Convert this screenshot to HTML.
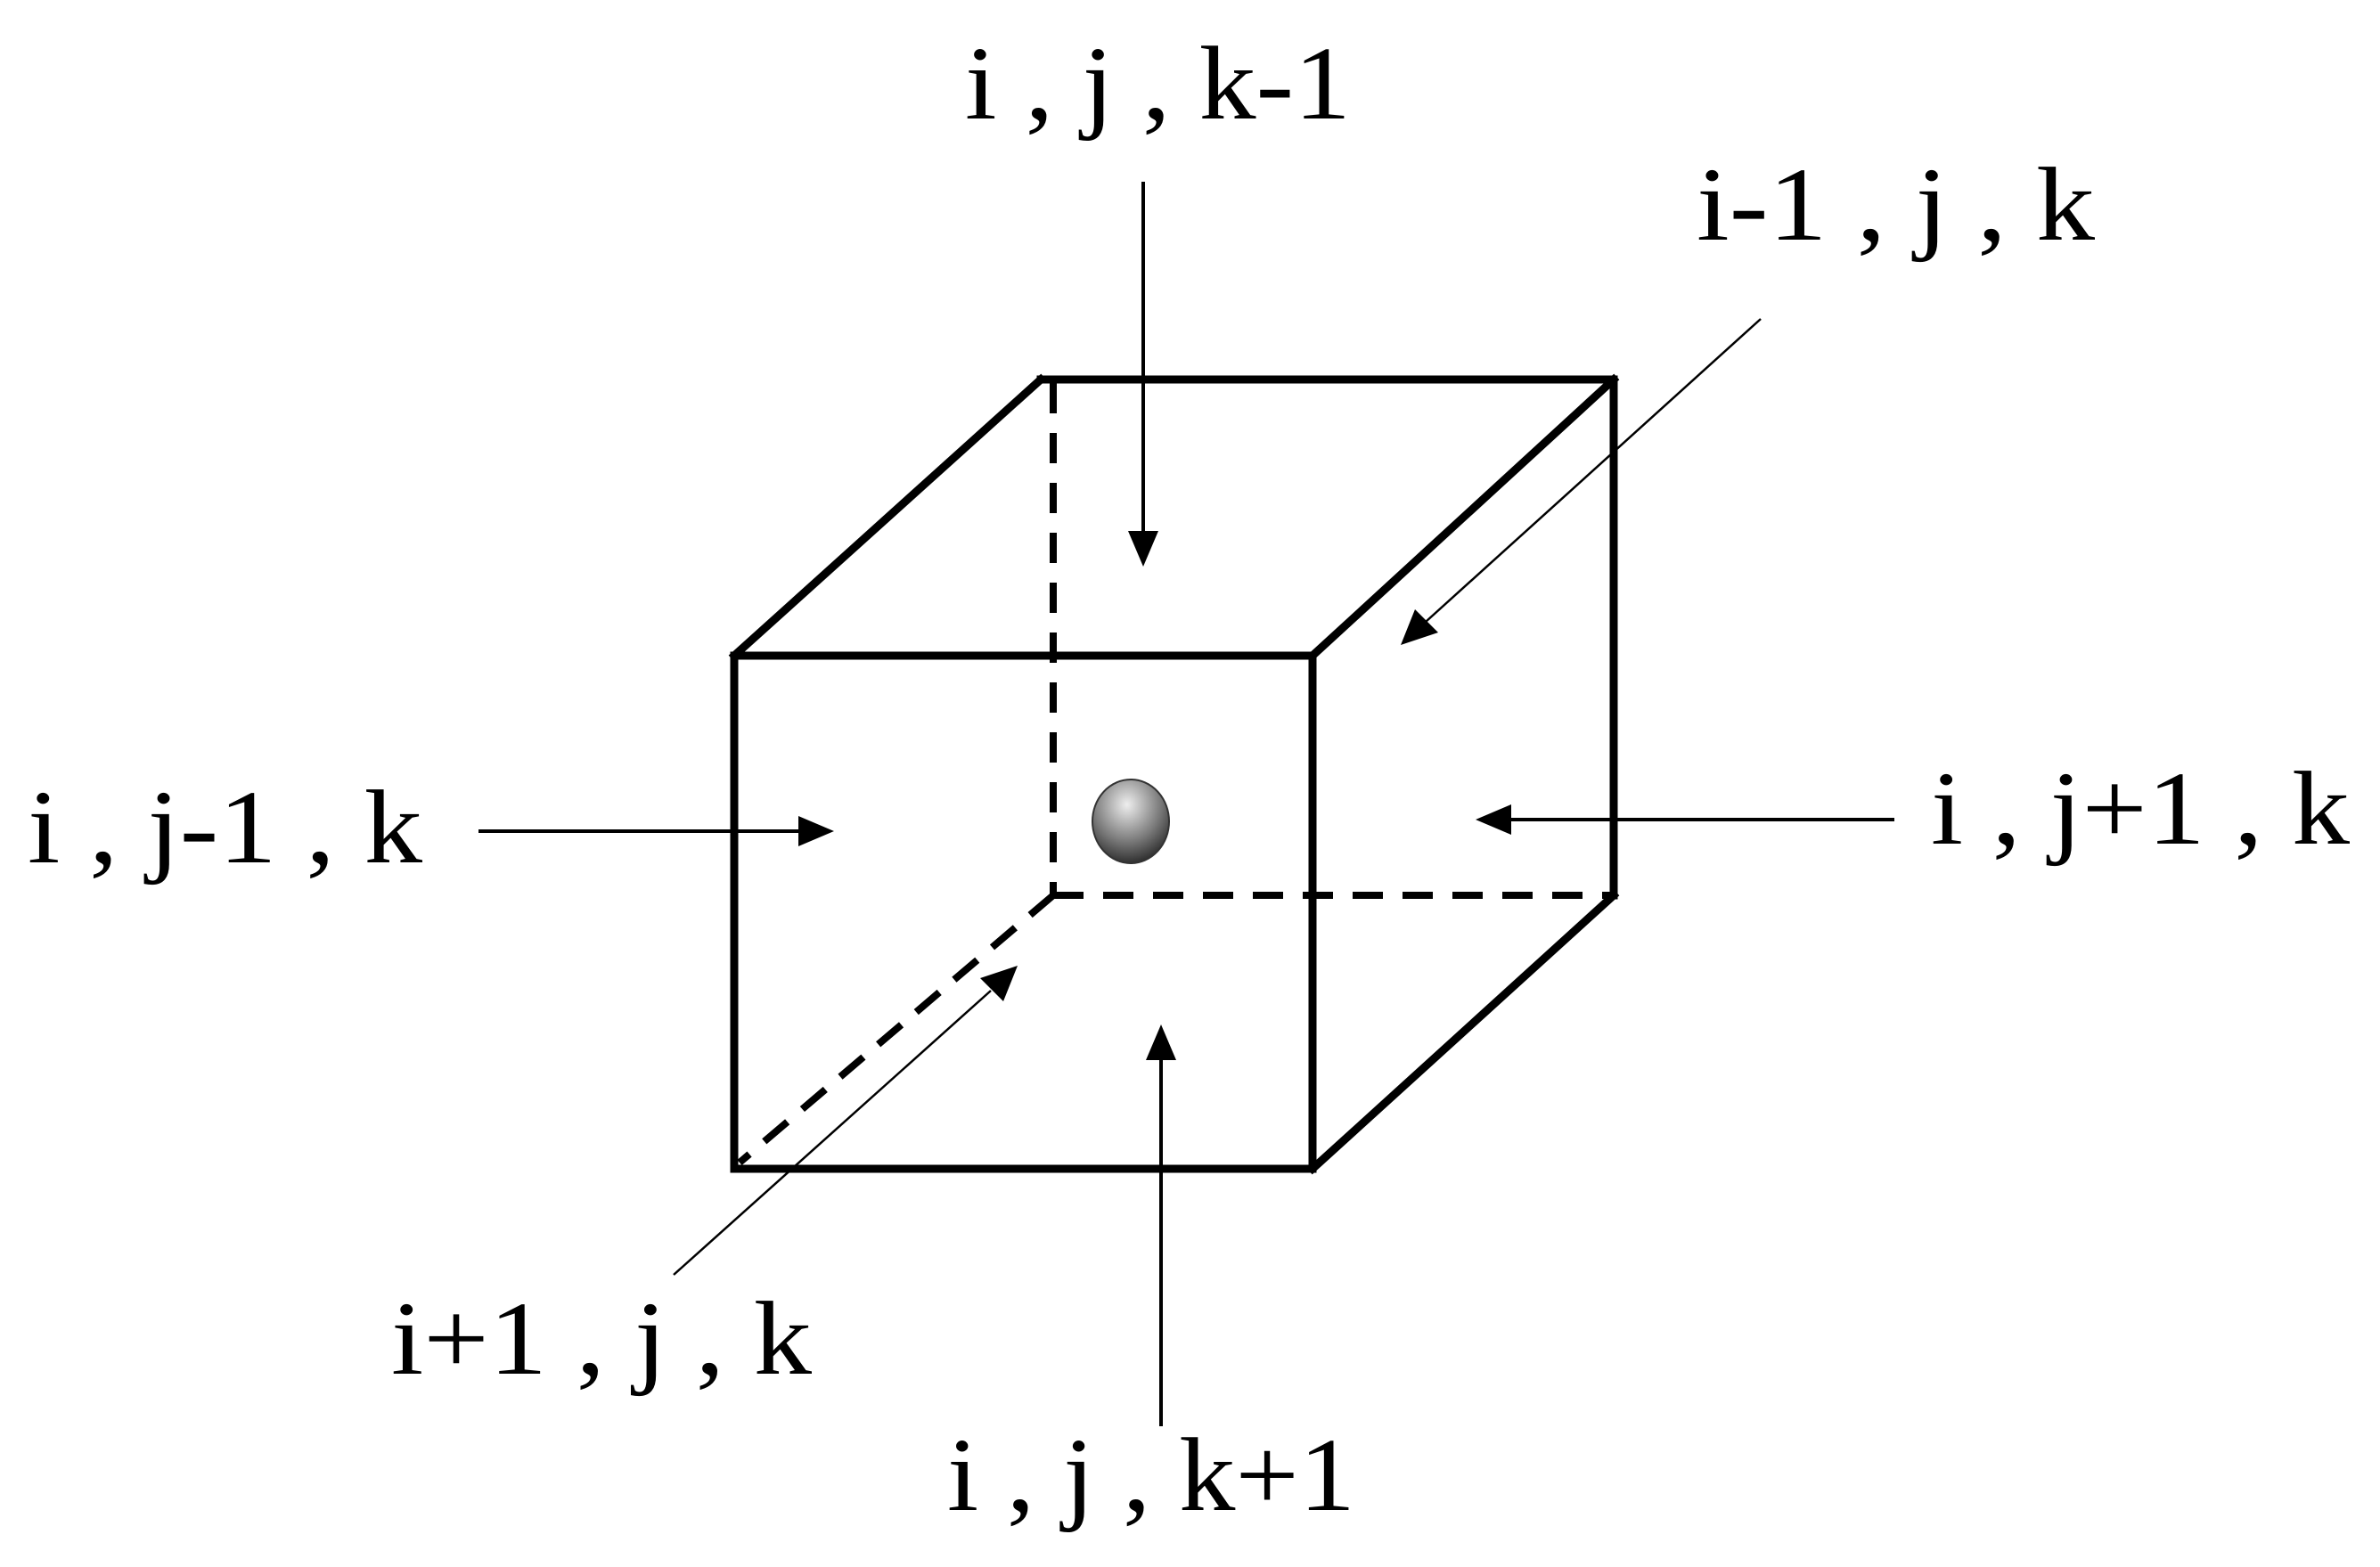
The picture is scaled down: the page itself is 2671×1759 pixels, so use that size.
<!DOCTYPE html>
<html><head><meta charset="utf-8"><style>html,body{margin:0;padding:0;background:#fff}svg{display:block}</style></head>
<body>
<svg width="2671" height="1759" viewBox="0 0 2671 1759" xmlns="http://www.w3.org/2000/svg">
<defs>
<radialGradient id="g" cx="0.45" cy="0.3" r="0.75">
<stop offset="0" stop-color="#eee"/><stop offset="0.6" stop-color="#777"/><stop offset="1" stop-color="#222"/>
</radialGradient>
</defs>
<rect width="2671" height="1759" fill="#fff"/>
<g stroke="#000" stroke-width="9" fill="none" stroke-linecap="square">
<g stroke-dasharray="34,22" stroke-width="8" stroke-linecap="butt">
<line x1="1182" y1="430" x2="1182" y2="1005"/>
<line x1="1182" y1="1005" x2="1811" y2="1005"/>
<line x1="1182" y1="1005" x2="830" y2="1305"/>
</g>
<rect x="824" y="736" width="649" height="576"/>
<line x1="824" y1="736" x2="1168" y2="426"/>
<line x1="1168" y1="426" x2="1811" y2="426"/>
<line x1="1473" y1="736" x2="1811" y2="426"/>
<line x1="1811" y1="426" x2="1811" y2="1005"/>
<line x1="1473" y1="1312" x2="1811" y2="1005"/>
</g>
<ellipse cx="1269" cy="922" rx="43" ry="47" fill="url(#g)" stroke="#333" stroke-width="2"/>
<g stroke="#000" fill="none">
<g stroke-width="4">
<line x1="1283" y1="204" x2="1283" y2="600"/>
<line x1="537" y1="933" x2="900" y2="933"/>
<line x1="2126" y1="920" x2="1690" y2="920"/>
<line x1="1303" y1="1601" x2="1303" y2="1186"/>
</g>
<g stroke-width="2.5">
<line x1="1976" y1="358" x2="1600" y2="698"/>
<line x1="756" y1="1431" x2="1112" y2="1112"/>
</g>
</g>
<g fill="#000">
<path d="M1266,596 L1300,596 L1283,636 Z"/>
<path d="M896,916 L896,950 L936,933 Z"/>
<path d="M1696,903 L1696,937 L1656,920 Z"/>
<path d="M1286,1190 L1320,1190 L1303,1150 Z"/>
<path d="M1588,684 L1614,710 L1572,724 Z"/>
<path d="M1100,1098 L1126,1124 L1142,1084 Z"/>
</g>
<g font-family="'Liberation Serif',serif" font-size="118" fill="#000">
<text x="1083" y="133" textLength="433" lengthAdjust="spacingAndGlyphs">i , j , k-1</text>
<text x="1904" y="269" textLength="447" lengthAdjust="spacingAndGlyphs">i-1 , j , k</text>
<text x="31" y="968" textLength="443" lengthAdjust="spacingAndGlyphs">i , j-1 , k</text>
<text x="2167" y="947" textLength="470" lengthAdjust="spacingAndGlyphs">i , j+1 , k</text>
<text x="439" y="1542" textLength="472" lengthAdjust="spacingAndGlyphs">i+1 , j , k</text>
<text x="1063" y="1695" textLength="458" lengthAdjust="spacingAndGlyphs">i , j , k+1</text>
</g>
</svg>
</body></html>
